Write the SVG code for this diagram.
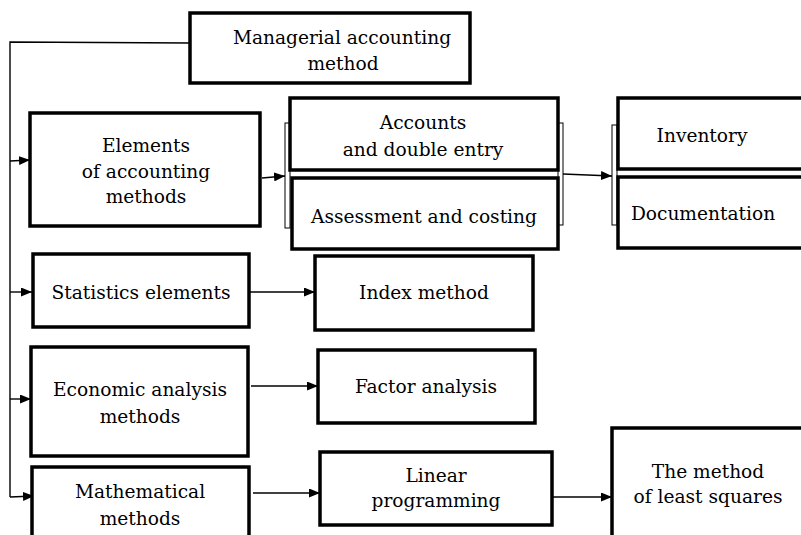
<svg xmlns="http://www.w3.org/2000/svg" width="801" height="535" viewBox="0 0 801 535">
<style>
.box{fill:#fff;stroke:#000;stroke-width:3.5}
.br{fill:#fff;stroke:#000;stroke-width:1}
.ln{fill:none;stroke:#000;stroke-width:1.4}
text{font-family:"DejaVu Serif","Liberation Serif",serif;font-size:18.6px;fill:#000;text-anchor:middle}
</style>
<defs>
<marker id="ah" viewBox="0 0 11 9" refX="11" refY="4.5" markerWidth="11" markerHeight="9" markerUnits="userSpaceOnUse" orient="auto">
<path d="M0,0 L11,4.5 L0,9 Z" fill="#000"/>
</marker>
</defs>
<rect width="801" height="535" fill="#fff"/>
<g id="brackets">
<rect class="br" x="285" y="123" width="5" height="105"/>
<rect class="br" x="558" y="123" width="5" height="102"/>
<rect class="br" x="612" y="125" width="5" height="100"/>
</g>
<g id="connectors">
<path class="ln" d="M190,43 L10,42 L10,497"/>
<path class="ln" d="M10,161 L30,160" marker-end="url(#ah)"/>
<path class="ln" d="M10,292 L32,292" marker-end="url(#ah)"/>
<path class="ln" d="M10,399 L31,399" marker-end="url(#ah)"/>
<path class="ln" d="M10,497 L34,496" marker-end="url(#ah)"/>
<path class="ln" d="M262,178 L285,176" marker-end="url(#ah)"/>
<path class="ln" d="M563,174 L612,176" marker-end="url(#ah)"/>
<path class="ln" d="M250,292 L315,292" marker-end="url(#ah)"/>
<path class="ln" d="M251,386 L318,386" marker-end="url(#ah)"/>
<path class="ln" d="M253,493 L320,493" marker-end="url(#ah)"/>
<path class="ln" d="M547,497 L612,497" marker-end="url(#ah)"/>
</g>
<g id="managerial">
<rect class="box" x="190" y="13" width="280" height="70"/>
<text x="342" y="44">Managerial accounting</text>
<text x="343" y="70">method</text>
</g>
<g id="elements">
<rect class="box" x="30" y="113" width="230" height="113"/>
<text x="146" y="152">Elements</text>
<text x="146" y="178">of accounting</text>
<text x="146" y="203">methods</text>
</g>
<g id="accounts">
<rect class="box" x="290" y="98" width="268" height="72"/>
<text x="423" y="129">Accounts</text>
<text x="423" y="156">and double entry</text>
</g>
<g id="assessment">
<rect class="box" x="292" y="178" width="266" height="71"/>
<text x="424" y="223">Assessment and costing</text>
</g>
<g id="inventory">
<rect class="box" x="618" y="98" width="190" height="71"/>
<text x="702" y="142">Inventory</text>
</g>
<g id="documentation">
<rect class="box" x="618" y="177" width="190" height="71"/>
<text x="703" y="220">Documentation</text>
</g>
<g id="statistics">
<rect class="box" x="33" y="254" width="216" height="73"/>
<text x="141" y="299">Statistics elements</text>
</g>
<g id="index">
<rect class="box" x="315" y="256" width="218" height="74"/>
<text x="424" y="299">Index method</text>
</g>
<g id="economic">
<rect class="box" x="31" y="347" width="217" height="109"/>
<text x="140" y="396">Economic analysis</text>
<text x="140" y="423">methods</text>
</g>
<g id="factor">
<rect class="box" x="318" y="350" width="217" height="73"/>
<text x="426" y="393">Factor analysis</text>
</g>
<g id="mathematical">
<rect class="box" x="32" y="467" width="217" height="80"/>
<text x="140" y="498">Mathematical</text>
<text x="140" y="525">methods</text>
</g>
<g id="linear">
<rect class="box" x="320" y="452" width="232" height="73"/>
<text x="436" y="482">Linear</text>
<text x="436" y="507">programming</text>
</g>
<g id="leastsquares">
<rect class="box" x="612" y="428" width="200" height="120"/>
<text x="708" y="478">The method</text>
<text x="708" y="503">of least squares</text>
</g>
</svg>
